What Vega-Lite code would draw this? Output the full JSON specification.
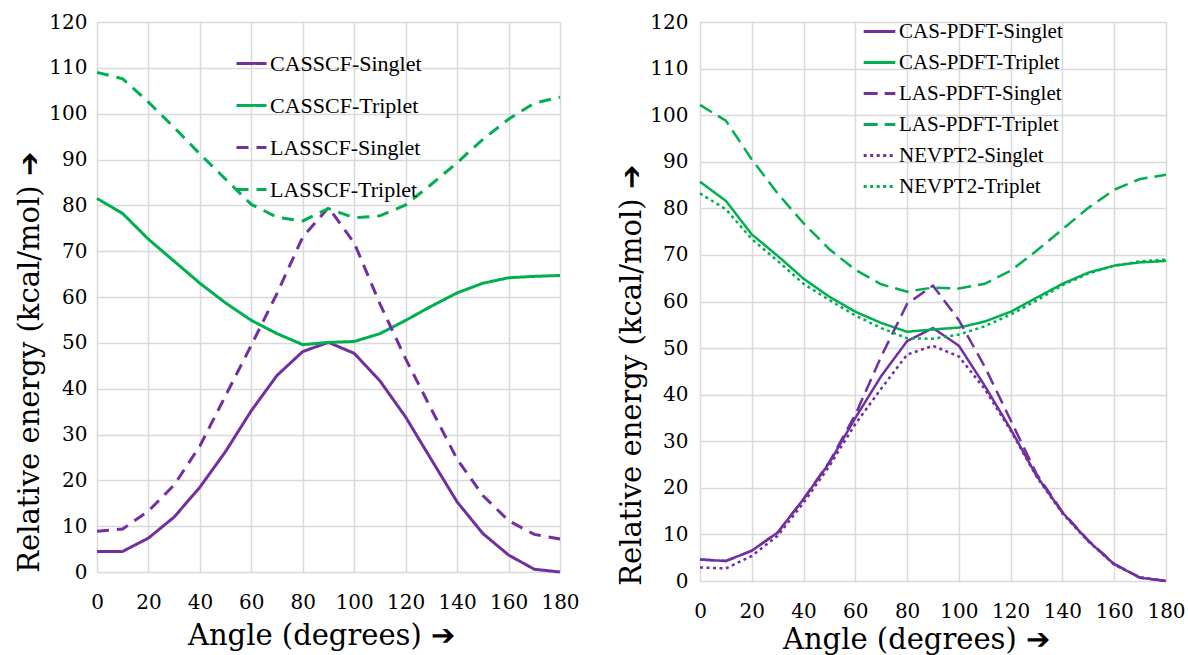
{
  "$schema": "https://vega.github.io/schema/vega-lite/v6.json",
  "autosize": {"type": "none"},
  "padding": {"left": 97, "top": 22, "right": 1091, "bottom": 633},
  "background": "white",
  "bounds": "flush",
  "spacing": 140,
  "config": {
    "view": {"stroke": null},
    "axis": {
      "labelColor": "black",
      "labelOverlap": false,
      "labelBound": false,
      "labelFlush": false,
      "titleFontWeight": "normal",
      "titleColor": "black",
      "domain": false,
      "ticks": false,
      "grid": true,
      "gridColor": "#d9d9d9",
      "gridWidth": 1.5
    },
    "legend": {
      "labelFont": "Liberation Serif",
      "labelColor": "black",
      "labelLimit": 0,
      "symbolType": "stroke",
      "padding": 0,
      "orient": "none"
    }
  },
  "datasets": {
    "left": [
      {"a":0,"s":"CASSCF-Singlet","e":4.5},{"a":10,"s":"CASSCF-Singlet","e":4.5},{"a":20,"s":"CASSCF-Singlet","e":7.4},{"a":30,"s":"CASSCF-Singlet","e":12},{"a":40,"s":"CASSCF-Singlet","e":18.5},{"a":50,"s":"CASSCF-Singlet","e":26.3},{"a":60,"s":"CASSCF-Singlet","e":35.2},{"a":70,"s":"CASSCF-Singlet","e":42.9},{"a":80,"s":"CASSCF-Singlet","e":48.1},{"a":90,"s":"CASSCF-Singlet","e":50.1},{"a":100,"s":"CASSCF-Singlet","e":47.7},{"a":110,"s":"CASSCF-Singlet","e":41.7},{"a":120,"s":"CASSCF-Singlet","e":33.8},{"a":130,"s":"CASSCF-Singlet","e":24.5},{"a":140,"s":"CASSCF-Singlet","e":15.3},{"a":150,"s":"CASSCF-Singlet","e":8.4},{"a":160,"s":"CASSCF-Singlet","e":3.7},{"a":170,"s":"CASSCF-Singlet","e":0.6},{"a":180,"s":"CASSCF-Singlet","e":0},
      {"a":0,"s":"CASSCF-Triplet","e":81.5},{"a":10,"s":"CASSCF-Triplet","e":78.2},{"a":20,"s":"CASSCF-Triplet","e":72.6},{"a":30,"s":"CASSCF-Triplet","e":67.8},{"a":40,"s":"CASSCF-Triplet","e":63},{"a":50,"s":"CASSCF-Triplet","e":58.7},{"a":60,"s":"CASSCF-Triplet","e":54.9},{"a":70,"s":"CASSCF-Triplet","e":52},{"a":80,"s":"CASSCF-Triplet","e":49.6},{"a":90,"s":"CASSCF-Triplet","e":50.1},{"a":100,"s":"CASSCF-Triplet","e":50.3},{"a":110,"s":"CASSCF-Triplet","e":52},{"a":120,"s":"CASSCF-Triplet","e":54.9},{"a":130,"s":"CASSCF-Triplet","e":58},{"a":140,"s":"CASSCF-Triplet","e":60.9},{"a":150,"s":"CASSCF-Triplet","e":63},{"a":160,"s":"CASSCF-Triplet","e":64.2},{"a":170,"s":"CASSCF-Triplet","e":64.5},{"a":180,"s":"CASSCF-Triplet","e":64.7},
      {"a":0,"s":"LASSCF-Singlet","e":8.9},{"a":10,"s":"LASSCF-Singlet","e":9.4},{"a":20,"s":"LASSCF-Singlet","e":13.3},{"a":30,"s":"LASSCF-Singlet","e":19},{"a":40,"s":"LASSCF-Singlet","e":27.5},{"a":50,"s":"LASSCF-Singlet","e":38.5},{"a":60,"s":"LASSCF-Singlet","e":49.5},{"a":70,"s":"LASSCF-Singlet","e":60.8},{"a":80,"s":"LASSCF-Singlet","e":73.1},{"a":90,"s":"LASSCF-Singlet","e":79.5},{"a":100,"s":"LASSCF-Singlet","e":71.8},{"a":110,"s":"LASSCF-Singlet","e":58.5},{"a":120,"s":"LASSCF-Singlet","e":46.5},{"a":130,"s":"LASSCF-Singlet","e":35.5},{"a":140,"s":"LASSCF-Singlet","e":24.6},{"a":150,"s":"LASSCF-Singlet","e":16.7},{"a":160,"s":"LASSCF-Singlet","e":11.2},{"a":170,"s":"LASSCF-Singlet","e":8.2},{"a":180,"s":"LASSCF-Singlet","e":7.2},
      {"a":0,"s":"LASSCF-Triplet","e":109},{"a":10,"s":"LASSCF-Triplet","e":107.6},{"a":20,"s":"LASSCF-Triplet","e":102.5},{"a":30,"s":"LASSCF-Triplet","e":97},{"a":40,"s":"LASSCF-Triplet","e":91.2},{"a":50,"s":"LASSCF-Triplet","e":85.7},{"a":60,"s":"LASSCF-Triplet","e":80.2},{"a":70,"s":"LASSCF-Triplet","e":77.4},{"a":80,"s":"LASSCF-Triplet","e":76.6},{"a":90,"s":"LASSCF-Triplet","e":79.3},{"a":100,"s":"LASSCF-Triplet","e":77.3},{"a":110,"s":"LASSCF-Triplet","e":77.7},{"a":120,"s":"LASSCF-Triplet","e":80.1},{"a":130,"s":"LASSCF-Triplet","e":84.6},{"a":140,"s":"LASSCF-Triplet","e":89.3},{"a":150,"s":"LASSCF-Triplet","e":94.4},{"a":160,"s":"LASSCF-Triplet","e":98.8},{"a":170,"s":"LASSCF-Triplet","e":102.3},{"a":180,"s":"LASSCF-Triplet","e":103.6}
    ],
    "right": [
      {"a":0,"s":"CAS-PDFT-Singlet","e":4.6},{"a":10,"s":"CAS-PDFT-Singlet","e":4.3},{"a":20,"s":"CAS-PDFT-Singlet","e":6.5},{"a":30,"s":"CAS-PDFT-Singlet","e":10.4},{"a":40,"s":"CAS-PDFT-Singlet","e":17.6},{"a":50,"s":"CAS-PDFT-Singlet","e":25.4},{"a":60,"s":"CAS-PDFT-Singlet","e":35},{"a":70,"s":"CAS-PDFT-Singlet","e":44},{"a":80,"s":"CAS-PDFT-Singlet","e":51.5},{"a":90,"s":"CAS-PDFT-Singlet","e":54.3},{"a":100,"s":"CAS-PDFT-Singlet","e":50.5},{"a":110,"s":"CAS-PDFT-Singlet","e":41.9},{"a":120,"s":"CAS-PDFT-Singlet","e":32.6},{"a":130,"s":"CAS-PDFT-Singlet","e":22.6},{"a":140,"s":"CAS-PDFT-Singlet","e":14.7},{"a":150,"s":"CAS-PDFT-Singlet","e":8.6},{"a":160,"s":"CAS-PDFT-Singlet","e":3.6},{"a":170,"s":"CAS-PDFT-Singlet","e":0.7},{"a":180,"s":"CAS-PDFT-Singlet","e":0},
      {"a":0,"s":"CAS-PDFT-Triplet","e":85.7},{"a":10,"s":"CAS-PDFT-Triplet","e":81.6},{"a":20,"s":"CAS-PDFT-Triplet","e":74.4},{"a":30,"s":"CAS-PDFT-Triplet","e":69.8},{"a":40,"s":"CAS-PDFT-Triplet","e":64.9},{"a":50,"s":"CAS-PDFT-Triplet","e":61},{"a":60,"s":"CAS-PDFT-Triplet","e":57.8},{"a":70,"s":"CAS-PDFT-Triplet","e":55.4},{"a":80,"s":"CAS-PDFT-Triplet","e":53.5},{"a":90,"s":"CAS-PDFT-Triplet","e":54},{"a":100,"s":"CAS-PDFT-Triplet","e":54.4},{"a":110,"s":"CAS-PDFT-Triplet","e":55.7},{"a":120,"s":"CAS-PDFT-Triplet","e":57.8},{"a":130,"s":"CAS-PDFT-Triplet","e":60.8},{"a":140,"s":"CAS-PDFT-Triplet","e":63.8},{"a":150,"s":"CAS-PDFT-Triplet","e":66.2},{"a":160,"s":"CAS-PDFT-Triplet","e":67.7},{"a":170,"s":"CAS-PDFT-Triplet","e":68.4},{"a":180,"s":"CAS-PDFT-Triplet","e":68.7},
      {"a":0,"s":"LAS-PDFT-Singlet","e":4.6},{"a":10,"s":"LAS-PDFT-Singlet","e":4.3},{"a":20,"s":"LAS-PDFT-Singlet","e":6.5},{"a":30,"s":"LAS-PDFT-Singlet","e":10.4},{"a":40,"s":"LAS-PDFT-Singlet","e":17.6},{"a":50,"s":"LAS-PDFT-Singlet","e":25.6},{"a":60,"s":"LAS-PDFT-Singlet","e":35.7},{"a":70,"s":"LAS-PDFT-Singlet","e":48.2},{"a":80,"s":"LAS-PDFT-Singlet","e":59.5},{"a":90,"s":"LAS-PDFT-Singlet","e":63.4},{"a":100,"s":"LAS-PDFT-Singlet","e":56},{"a":110,"s":"LAS-PDFT-Singlet","e":46},{"a":120,"s":"LAS-PDFT-Singlet","e":34.5},{"a":130,"s":"LAS-PDFT-Singlet","e":23},{"a":140,"s":"LAS-PDFT-Singlet","e":14.8},{"a":150,"s":"LAS-PDFT-Singlet","e":8.7},{"a":160,"s":"LAS-PDFT-Singlet","e":3.7},{"a":170,"s":"LAS-PDFT-Singlet","e":0.7},{"a":180,"s":"LAS-PDFT-Singlet","e":0},
      {"a":0,"s":"LAS-PDFT-Triplet","e":102.2},{"a":10,"s":"LAS-PDFT-Triplet","e":98.8},{"a":20,"s":"LAS-PDFT-Triplet","e":90.5},{"a":30,"s":"LAS-PDFT-Triplet","e":83.2},{"a":40,"s":"LAS-PDFT-Triplet","e":76.8},{"a":50,"s":"LAS-PDFT-Triplet","e":71.2},{"a":60,"s":"LAS-PDFT-Triplet","e":66.8},{"a":70,"s":"LAS-PDFT-Triplet","e":63.7},{"a":80,"s":"LAS-PDFT-Triplet","e":62.1},{"a":90,"s":"LAS-PDFT-Triplet","e":63},{"a":100,"s":"LAS-PDFT-Triplet","e":62.8},{"a":110,"s":"LAS-PDFT-Triplet","e":63.8},{"a":120,"s":"LAS-PDFT-Triplet","e":66.6},{"a":130,"s":"LAS-PDFT-Triplet","e":70.9},{"a":140,"s":"LAS-PDFT-Triplet","e":75.5},{"a":150,"s":"LAS-PDFT-Triplet","e":80.1},{"a":160,"s":"LAS-PDFT-Triplet","e":84},{"a":170,"s":"LAS-PDFT-Triplet","e":86.3},{"a":180,"s":"LAS-PDFT-Triplet","e":87.2},
      {"a":0,"s":"NEVPT2-Singlet","e":2.9},{"a":10,"s":"NEVPT2-Singlet","e":2.7},{"a":20,"s":"NEVPT2-Singlet","e":5.4},{"a":30,"s":"NEVPT2-Singlet","e":9.7},{"a":40,"s":"NEVPT2-Singlet","e":16.8},{"a":50,"s":"NEVPT2-Singlet","e":24.7},{"a":60,"s":"NEVPT2-Singlet","e":33.7},{"a":70,"s":"NEVPT2-Singlet","e":41.3},{"a":80,"s":"NEVPT2-Singlet","e":48.6},{"a":90,"s":"NEVPT2-Singlet","e":50.5},{"a":100,"s":"NEVPT2-Singlet","e":48.2},{"a":110,"s":"NEVPT2-Singlet","e":41.2},{"a":120,"s":"NEVPT2-Singlet","e":32.3},{"a":130,"s":"NEVPT2-Singlet","e":22.4},{"a":140,"s":"NEVPT2-Singlet","e":14.5},{"a":150,"s":"NEVPT2-Singlet","e":8.5},{"a":160,"s":"NEVPT2-Singlet","e":3.5},{"a":170,"s":"NEVPT2-Singlet","e":0.8},{"a":180,"s":"NEVPT2-Singlet","e":0},
      {"a":0,"s":"NEVPT2-Triplet","e":83.2},{"a":10,"s":"NEVPT2-Triplet","e":79.8},{"a":20,"s":"NEVPT2-Triplet","e":73.4},{"a":30,"s":"NEVPT2-Triplet","e":68.7},{"a":40,"s":"NEVPT2-Triplet","e":63.8},{"a":50,"s":"NEVPT2-Triplet","e":60.3},{"a":60,"s":"NEVPT2-Triplet","e":57},{"a":70,"s":"NEVPT2-Triplet","e":54.3},{"a":80,"s":"NEVPT2-Triplet","e":52.1},{"a":90,"s":"NEVPT2-Triplet","e":52},{"a":100,"s":"NEVPT2-Triplet","e":52.9},{"a":110,"s":"NEVPT2-Triplet","e":54.7},{"a":120,"s":"NEVPT2-Triplet","e":57.2},{"a":130,"s":"NEVPT2-Triplet","e":60.2},{"a":140,"s":"NEVPT2-Triplet","e":63.5},{"a":150,"s":"NEVPT2-Triplet","e":66},{"a":160,"s":"NEVPT2-Triplet","e":67.7},{"a":170,"s":"NEVPT2-Triplet","e":68.6},{"a":180,"s":"NEVPT2-Triplet","e":69}
    ]
  },
  "resolve": {"scale": {"color": "independent", "strokeDash": "independent", "x": "independent", "y": "independent"}},
  "hconcat": [
    {
      "width": 463,
      "height": 550,
      "data": {"name": "left"},
      "mark": {"type": "line", "strokeWidth": 3},
      "encoding": {
        "x": {"field": "a", "type": "quantitative", "scale": {"domain": [0, 180], "nice": false},
          "axis": {"values": [0,20,40,60,80,100,120,140,160,180], "labelFont": "DejaVu Serif", "titleFont": "DejaVu Serif", "labelFontSize": 20, "titleFontSize": 29, "title": "Angle (degrees) ➔", "labelPadding": 20, "titleX": 224, "titleY": 72, "titleBaseline": "alphabetic", "titleAlign": "center"}},
        "y": {"field": "e", "type": "quantitative", "scale": {"domain": [0, 120], "nice": false},
          "axis": {"values": [0,10,20,30,40,50,60,70,80,90,100,110,120], "labelFont": "DejaVu Serif", "titleFont": "DejaVu Serif", "labelFontSize": 20, "titleFontSize": 29, "title": "Relative energy (kcal/mol)  ➔", "labelPadding": 10, "titleX": -53, "titleY": 340, "titleAngle": 270, "titleBaseline": "bottom", "titleAlign": "center"}},
        "color": {"field": "s", "type": "nominal",
          "scale": {"domain": ["CASSCF-Singlet","CASSCF-Triplet","LASSCF-Singlet","LASSCF-Triplet"], "range": ["#7030A0","#00B050","#7030A0","#00B050"]},
          "legend": {"title": null, "orient": "none", "legendX": 138, "legendY": 25, "labelFontSize": 22, "symbolSize": 900, "symbolStrokeWidth": 3, "rowPadding": 14, "labelOffset": 2}},
        "strokeDash": {"field": "s", "type": "nominal",
          "scale": {"domain": ["CASSCF-Singlet","CASSCF-Triplet","LASSCF-Singlet","LASSCF-Triplet"], "range": [[1,0],[1,0],[12,8],[12,8]]},
          "legend": {"title": null, "orient": "none", "legendX": 138, "legendY": 25, "labelFontSize": 22, "symbolSize": 900, "symbolStrokeWidth": 3, "rowPadding": 14, "labelOffset": 2}}
      }
    },
    {
      "width": 466,
      "height": 559,
      "data": {"name": "right"},
      "mark": {"type": "line", "strokeWidth": 2.5},
      "encoding": {
        "x": {"field": "a", "type": "quantitative", "scale": {"domain": [0, 180], "nice": false},
          "axis": {"values": [0,20,40,60,80,100,120,140,160,180], "labelFont": "DejaVu Serif", "titleFont": "DejaVu Serif", "labelFontSize": 20, "titleFontSize": 29, "title": "Angle (degrees) ➔", "labelPadding": 20, "titleX": 216, "titleY": 67, "titleBaseline": "alphabetic", "titleAlign": "center"}},
        "y": {"field": "e", "type": "quantitative", "scale": {"domain": [0, 120], "nice": false},
          "axis": {"values": [0,10,20,30,40,50,60,70,80,90,100,110,120], "labelFont": "DejaVu Serif", "titleFont": "DejaVu Serif", "labelFontSize": 20, "titleFontSize": 29, "title": "Relative energy (kcal/mol)  ➔", "labelPadding": 12, "titleX": -54, "titleY": 353, "titleAngle": 270, "titleBaseline": "bottom", "titleAlign": "center"}},
        "color": {"field": "s", "type": "nominal",
          "scale": {"domain": ["CAS-PDFT-Singlet","CAS-PDFT-Triplet","LAS-PDFT-Singlet","LAS-PDFT-Triplet","NEVPT2-Singlet","NEVPT2-Triplet"], "range": ["#7030A0","#00B050","#7030A0","#00B050","#7030A0","#00B050"]},
          "legend": {"title": null, "orient": "none", "legendX": 162, "legendY": -8, "labelFontSize": 21, "symbolSize": 1000, "symbolStrokeWidth": 3, "rowPadding": 3, "labelOffset": 2}},
        "strokeDash": {"field": "s", "type": "nominal",
          "scale": {"domain": ["CAS-PDFT-Singlet","CAS-PDFT-Triplet","LAS-PDFT-Singlet","LAS-PDFT-Triplet","NEVPT2-Singlet","NEVPT2-Triplet"], "range": [[1,0],[1,0],[14,7],[14,7],[3,3.5],[3,3.5]]},
          "legend": {"title": null, "orient": "none", "legendX": 162, "legendY": -8, "labelFontSize": 21, "symbolSize": 1000, "symbolStrokeWidth": 3, "rowPadding": 3, "labelOffset": 2}}
      }
    }
  ]
}
